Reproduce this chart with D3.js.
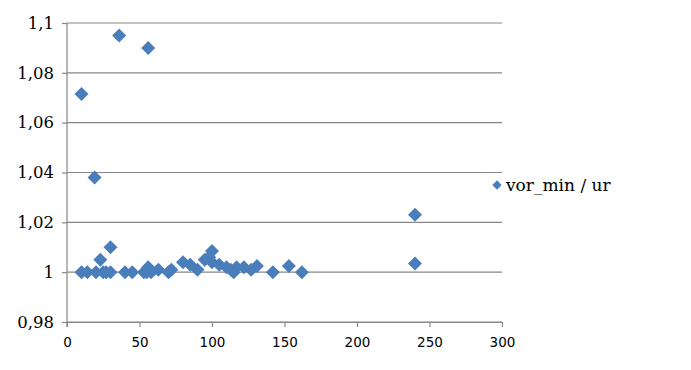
<!DOCTYPE html>
<html>
<head>
<meta charset="utf-8">
<script src="https://cdn.jsdelivr.net/npm/d3@7"></script>
<style>
  body { margin: 0; background: #fff; }
  svg { display: block; }
</style>
</head>
<body>
<svg id="canvas" width="691" height="370"></svg>
<script>
const seriesName = "vor_min / ur"

const xValues = [10, 14, 20, 23, 25, 27, 30, 30, 40, 45, 53, 55, 56, 58, 63, 70, 72, 80, 85, 90, 95, 98, 100, 100, 105, 110, 113, 115, 117, 122, 127, 131, 142, 153, 162, 240, 240, 10, 19, 36, 56]
const yValues = [1.0, 1.0, 1.0, 1.005, 1.0, 1.0, 1.0, 1.01, 1.0, 1.0, 1.0, 1.0, 1.002, 1.0, 1.001, 1.0, 1.001, 1.004, 1.003, 1.001, 1.005, 1.006, 1.0085, 1.004, 1.003, 1.002, 1.001, 1.0, 1.002, 1.002, 1.001, 1.0025, 1.0, 1.0025, 1.0, 1.023, 1.0035, 1.0715, 1.038, 1.095, 1.09]

const xTicks = [0, 50, 100, 150, 200, 250, 300]
const yTicks = [0.98, 1, 1.02, 1.04, 1.06, 1.08, 1.1]

const canvas = d3.select("#canvas")

const plotLeft = 67, plotRight = 502, plotTop = 23, plotBottom = 322

const xScale = d3.scaleLinear().domain([0, 300]).range([plotLeft, plotRight])
const yScale = d3.scaleLinear().domain([0.98, 1.1]).range([plotBottom, plotTop])

const gridColor = "#868686"
const markColor = "#4a7ebb"

// gridlines
canvas.append("g")
      .selectAll("line")
      .data(yTicks)
      .enter()
      .append("line")
      .attr("x1", plotLeft)
      .attr("x2", plotRight)
      .attr("y1", d => yScale(d))
      .attr("y2", d => yScale(d))
      .attr("stroke", gridColor)
      .attr("stroke-width", 1.2)

// y axis
const yAxis = d3.axisLeft(yScale)
                .tickValues(yTicks)
                .tickSize(5)
                .tickSizeOuter(0)
                .tickPadding(8)
                .tickFormat(d => String(+d.toFixed(2)).replace(".", ","))

const gy = canvas.append("g")
                 .attr("transform", "translate(" + plotLeft + ",0)")
                 .call(yAxis)
gy.select(".domain").remove()
gy.append("line")
  .attr("x1", 0).attr("x2", 0)
  .attr("y1", plotTop).attr("y2", plotBottom + 5)
  .attr("stroke", gridColor).attr("stroke-width", 1.2)
gy.selectAll(".tick line").attr("stroke", gridColor).attr("stroke-width", 1.2)
gy.selectAll(".tick text")
  .attr("fill", "#000")
  .style("font-family", "'DejaVu Serif', serif")
  .style("font-size", "16.5px")

// x axis
const xAxis = d3.axisBottom(xScale)
                .tickValues(xTicks)
                .tickSize(5)
                .tickSizeOuter(0)
                .tickPadding(10)

const gx = canvas.append("g")
                 .attr("transform", "translate(0," + plotBottom + ")")
                 .call(xAxis)
gx.select(".domain").attr("stroke", gridColor).attr("stroke-width", 1.2)
gx.selectAll(".tick line").attr("stroke", gridColor).attr("stroke-width", 1.2)
gx.selectAll(".tick text")
  .attr("fill", "#000")
  .style("font-family", "'DejaVu Sans', sans-serif")
  .style("font-size", "13.5px")

// points
const diamond = d3.symbol().type(d3.symbolDiamond2).size(125)
const points = xValues.map((x, i) => ({ x: x, y: yValues[i] }))

canvas.append("g")
      .selectAll("path")
      .data(points)
      .enter()
      .append("path")
      .attr("d", diamond)
      .attr("transform", d => "translate(" + xScale(d.x) + "," + yScale(d.y) + ")")
      .attr("fill", markColor)

// legend
const legend = canvas.append("g").attr("transform", "translate(497,185)")
legend.append("path")
      .attr("d", d3.symbol().type(d3.symbolDiamond2).size(55))
      .attr("fill", markColor)
legend.append("text")
      .attr("x", 9)
      .attr("y", 5.5)
      .text(seriesName)
      .style("font-family", "'DejaVu Serif', serif")
      .style("font-size", "17px")
</script>
</body>
</html>
